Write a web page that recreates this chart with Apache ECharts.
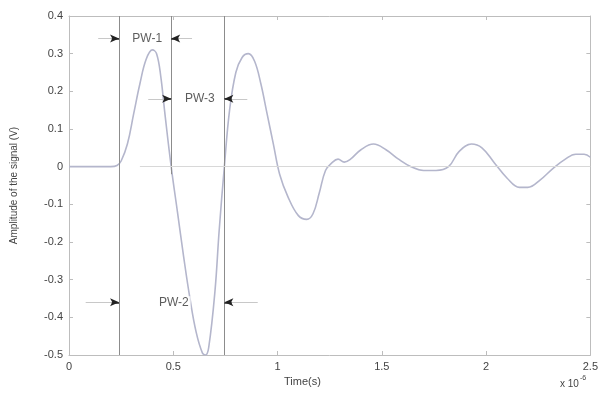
<!DOCTYPE html>
<html>
<head>
<meta charset="utf-8">
<script src="https://cdn.jsdelivr.net/npm/echarts@6/dist/echarts.min.js"></script>
<style>html,body{margin:0;padding:0;background:#fff}#c{width:601px;height:394px}</style>
</head>
<body>
<div id="c"></div>
<script>
// Signal samples (time in units of 1e-6 s, amplitude in V)
const timeVals = [0, 0.1, 0.2, 0.23, 0.25, 0.28, 0.31, 0.34, 0.37, 0.40, 0.42, 0.44, 0.46, 0.49, 0.52, 0.55, 0.58, 0.61, 0.64, 0.655, 0.67, 0.70, 0.72, 0.745, 0.77, 0.80, 0.83, 0.86, 0.89, 0.92, 0.95, 0.98, 1.01, 1.05, 1.10, 1.14, 1.17, 1.20, 1.23, 1.26, 1.29, 1.32, 1.35, 1.40, 1.46, 1.52, 1.58, 1.64, 1.70, 1.76, 1.82, 1.87, 1.93, 1.98, 2.04, 2.10, 2.16, 2.20, 2.26, 2.32, 2.38, 2.43, 2.47, 2.5];
const ampVals = [0, 0, 0, 0.003, 0.015, 0.06, 0.14, 0.22, 0.285, 0.31, 0.30, 0.24, 0.14, 0.0, -0.12, -0.24, -0.35, -0.44, -0.495, -0.5, -0.48, -0.33, -0.17, 0.0, 0.15, 0.25, 0.29, 0.30, 0.28, 0.22, 0.14, 0.06, -0.02, -0.08, -0.13, -0.14, -0.125, -0.07, -0.01, 0.01, 0.02, 0.012, 0.02, 0.045, 0.06, 0.045, 0.02, 0.0, -0.01, -0.01, 0.0, 0.04, 0.06, 0.05, 0.01, -0.03, -0.055, -0.055, -0.035, -0.005, 0.02, 0.033, 0.033, 0.025];
// Pulse-width markers
const markerTimes = [0.24, 0.49, 0.745];
const pwLabels = ['PW-1', 'PW-2', 'PW-3'];
const pwLevels = [0.34, -0.36, 0.18];
const pwStart = [0.24, 0.24, 0.49];
const pwEnd = [0.49, 0.745, 0.745];
const xTicks = [0, 0.5, 1, 1.5, 2, 2.5];

const arrowLen = [0.1, 0.16, 0.11];
const headLen = 0.035;

const series = [];
series.push({
  type: 'line',
  data: timeVals.map((t, i) => [t, ampVals[i]]),
  smooth: 0.4,
  showSymbol: false,
  lineStyle: {color: '#b4b6cc', width: 1.6},
  z: 3,
  markLine: {
    silent: true, symbol: ['none', 'none'],
    label: {show: false},
    lineStyle: {color: '#8c8c8c', width: 1, type: 'solid'},
    data: [
      [{coord: [markerTimes[0], 0.4]}, {coord: [markerTimes[0], -0.5]}],
      [{coord: [markerTimes[1], 0.4]}, {coord: [markerTimes[1], -0.02]}],
      [{coord: [markerTimes[2], 0.4]}, {coord: [markerTimes[2], -0.5]}],
      [{coord: [0.34, 0], lineStyle: {color: '#d8d8d8', width: 1.2}}, {coord: [2.5, 0]}]
    ]
  }
});

// arrows
const tailData = [], headData = [];
pwLabels.forEach((l, i) => {
  const y = pwLevels[i];
  tailData.push([{coord: [pwStart[i] - arrowLen[i], y]}, {coord: [pwStart[i], y]}]);
  tailData.push([{coord: [pwEnd[i] + arrowLen[i], y]}, {coord: [pwEnd[i], y]}]);
  headData.push([{coord: [pwStart[i] - headLen, y]}, {coord: [pwStart[i], y]}]);
  headData.push([{coord: [pwEnd[i] + headLen, y]}, {coord: [pwEnd[i], y]}]);
});
series.push({
  type: 'line', data: [], showSymbol: false,
  markLine: {silent: true, symbol: ['none', 'none'], label: {show: false},
    lineStyle: {color: '#c8c8c8', width: 1, type: 'solid'}, data: tailData}
});
series.push({
  type: 'line', data: [], showSymbol: false,
  markLine: {silent: true, symbol: ['none', 'arrow'], symbolSize: [6, 9], label: {show: false},
    lineStyle: {color: '#222', width: 1.5, type: 'solid'}, data: headData}
});
series.push({
  type: 'scatter',
  symbolSize: 0,
  data: pwLabels.map((l, i) => ({value: [(pwStart[i] + pwEnd[i]) / 2 + 0.01, pwLevels[i]], name: l})),
  label: {show: true, position: 'inside', formatter: p => p.name, color: '#333', fontSize: 12, fontFamily: 'Liberation Sans, Arial, sans-serif',
    backgroundColor: '#fff', padding: [0, 2]},
  z: 5
});

const axisCommon = {
  axisLine: {show: true, onZero: false, lineStyle: {color: '#bdbdbd', width: 1}},
  axisTick: {show: true, inside: true, length: 4, lineStyle: {color: '#bdbdbd'}},
  splitLine: {show: false}
};
const chart = echarts.init(document.getElementById('c'), null, {renderer: 'canvas'});
chart.setOption({
  animation: false,
  backgroundColor: '#fff',
  grid: {left: 69, right: 6, top: 16, bottom: 39},
  xAxis: [
    Object.assign({type: 'value', min: 0, max: 2.5, interval: 0.5, position: 'bottom',
      axisLabel: {color: '#444', fontSize: 11, fontFamily: 'Liberation Sans, Arial, sans-serif', margin: 6,
        formatter: v => String(v)}}, axisCommon),
    Object.assign({type: 'value', min: 0, max: 2.5, interval: 0.5, position: 'top', axisLabel: {show: false}}, axisCommon)
  ],
  yAxis: [
    Object.assign({type: 'value', min: -0.5, max: 0.4, interval: 0.1, position: 'left',
      name: 'Amplitude of the signal (V)', nameLocation: 'middle', nameGap: 50, nameRotate: 90,
      nameTextStyle: {color: '#444', fontSize: 10, fontFamily: 'Liberation Sans, Arial, sans-serif'},
      axisLabel: {color: '#444', fontSize: 11, fontFamily: 'Liberation Sans, Arial, sans-serif', margin: 6,
        formatter: v => String(Math.round(v * 10) / 10)}}, axisCommon),
    Object.assign({type: 'value', min: -0.5, max: 0.4, interval: 0.1, position: 'right', axisLabel: {show: false}}, axisCommon)
  ],
  graphic: [
    {type: 'text', left: 284, top: 376, style: {text: 'Time(s)', fill: '#444', fontSize: 11, fontFamily: 'Liberation Sans, Arial, sans-serif'}},
    {type: 'text', left: 560, top: 375, style: {text: '{a|x 10}{b|-6}', rich: {
      a: {fill: '#444', fontSize: 10, fontFamily: 'Liberation Sans, Arial, sans-serif', padding: [8, 0, 0, 0]},
      b: {fill: '#444', fontSize: 7, fontFamily: 'Liberation Sans, Arial, sans-serif', padding: [0, 0, 4, 1]}}}}
  ],
  series: series
});
</script>
</body>
</html>
